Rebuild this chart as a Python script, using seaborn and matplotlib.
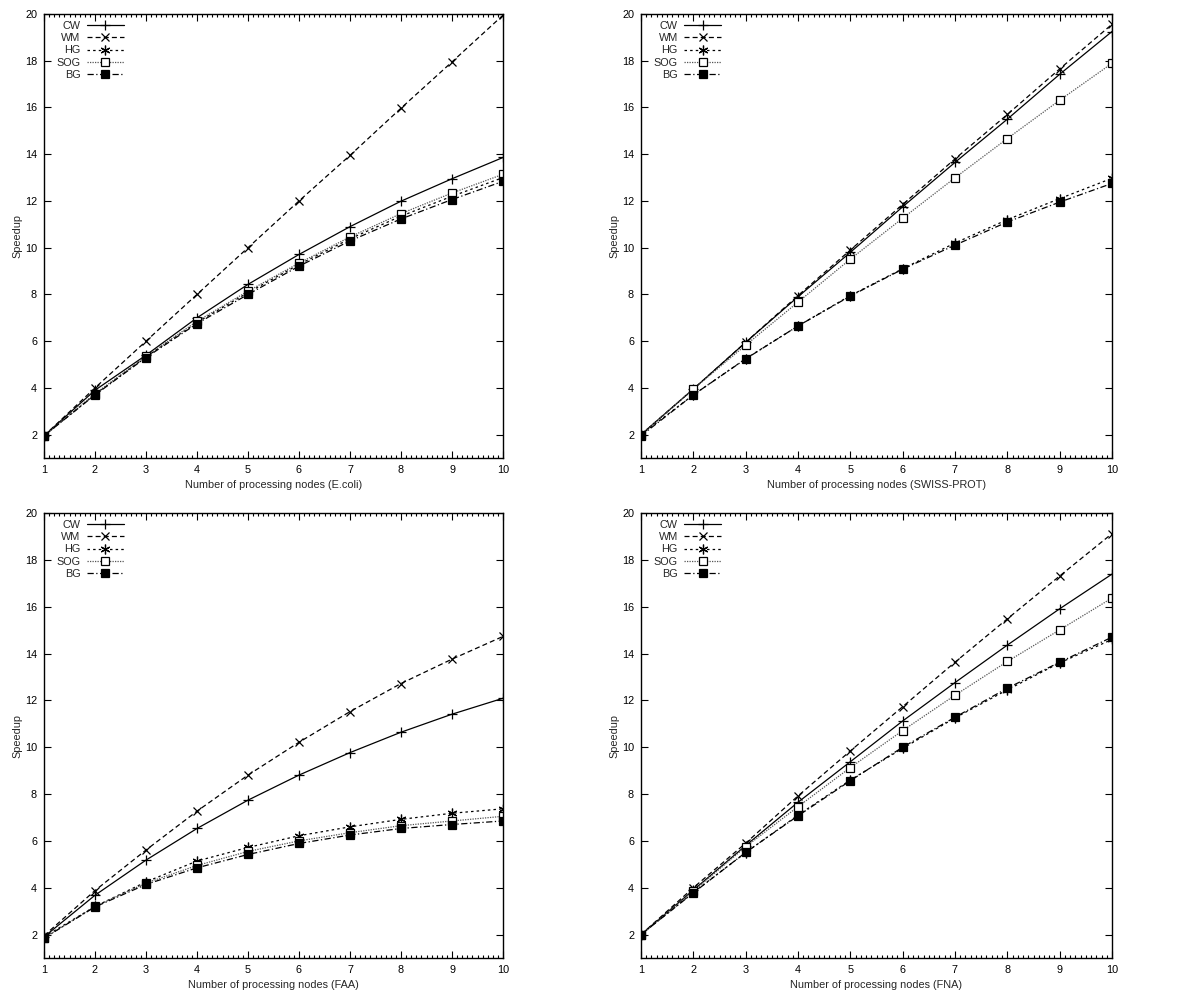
import matplotlib
matplotlib.use("Agg")
import matplotlib.pyplot as plt
from matplotlib import font_manager
from matplotlib.ticker import MultipleLocator, AutoMinorLocator
import seaborn as sns
import pandas as pd

nodes = [1, 2, 3, 4, 5, 6, 7, 8, 9, 10]
series_names = ["CW", "WM", "HG", "SOG", "BG"]

ecoli_cw = [1.95, 3.9, 5.4, 7.0, 8.43, 9.71, 10.9, 11.99, 12.95, 13.86]
ecoli_wm = [1.95, 4.0, 6.0, 8.0, 10.0, 12.0, 13.95, 15.97, 17.95, 19.95]
ecoli_hg = [1.95, 3.72, 5.33, 6.8, 8.08, 9.28, 10.38, 11.35, 12.2, 13.0]
ecoli_sog = [1.95, 3.75, 5.35, 6.85, 8.14, 9.34, 10.46, 11.46, 12.34, 13.14]
ecoli_bg = [1.95, 3.7, 5.3, 6.75, 8.0, 9.21, 10.29, 11.23, 12.06, 12.84]

swiss_cw = [2.0, 3.95, 5.95, 7.9, 9.8, 11.75, 13.65, 15.5, 17.42, 19.25]
swiss_wm = [2.0, 3.95, 5.95, 7.95, 9.9, 11.85, 13.8, 15.7, 17.65, 19.56]
swiss_hg = [2.0, 3.7, 5.25, 6.65, 7.95, 9.1, 10.2, 11.2, 12.1, 12.97]
swiss_sog = [2.0, 3.95, 5.83, 7.67, 9.51, 11.26, 12.99, 14.67, 16.31, 17.89]
swiss_bg = [1.95, 3.7, 5.24, 6.65, 7.93, 9.08, 10.11, 11.1, 11.95, 12.75]

faa_cw = [1.9, 3.68, 5.18, 6.53, 7.74, 8.81, 9.77, 10.64, 11.41, 12.09]
faa_wm = [1.95, 3.88, 5.61, 7.27, 8.81, 10.21, 11.52, 12.72, 13.76, 14.73]
faa_hg = [1.9, 3.2, 4.25, 5.14, 5.72, 6.22, 6.6, 6.92, 7.18, 7.37]
faa_sog = [1.85, 3.2, 4.2, 4.95, 5.55, 6.0, 6.35, 6.65, 6.85, 7.05]
faa_bg = [1.85, 3.18, 4.14, 4.85, 5.42, 5.89, 6.25, 6.53, 6.7, 6.85]

fna_cw = [2.0, 3.9, 5.8, 7.65, 9.38, 11.12, 12.76, 14.36, 15.91, 17.39]
fna_wm = [2.0, 4.0, 5.9, 7.92, 9.84, 11.73, 13.63, 15.48, 17.31, 19.12]
fna_hg = [2.0, 3.8, 5.5, 7.1, 8.6, 9.95, 11.25, 12.45, 13.6, 14.6]
fna_sog = [2.0, 3.85, 5.75, 7.46, 9.13, 10.71, 12.22, 13.66, 15.01, 16.37]
fna_bg = [2.0, 3.78, 5.51, 7.07, 8.57, 10.0, 11.28, 12.52, 13.63, 14.7]

x_labels = ["Number of processing nodes (E.coli)",
            "Number of processing nodes (SWISS-PROT)",
            "Number of processing nodes (FAA)",
            "Number of processing nodes (FNA)"]
y_label = "Speedup"

panel_values = [
    [ecoli_cw, ecoli_wm, ecoli_hg, ecoli_sog, ecoli_bg],
    [swiss_cw, swiss_wm, swiss_hg, swiss_sog, swiss_bg],
    [faa_cw, faa_wm, faa_hg, faa_sog, faa_bg],
    [fna_cw, fna_wm, fna_hg, fna_sog, fna_bg],
]

sns.set_style("ticks")
installed = {f.name for f in font_manager.fontManager.ttflist}
if "Liberation Sans Narrow" in installed:
    plt.rcParams["font.family"] = ["Liberation Sans Narrow", "DejaVu Sans"]
    FS = 9.3
else:
    plt.rcParams["font.family"] = ["Liberation Sans", "DejaVu Sans"]
    FS = 7.8
plt.rcParams["font.size"] = FS

styles = {
    "CW": dict(marker="+", linestyle="-", color="black", mfc="black", mec="black", ms=7.5),
    "WM": dict(marker="x", linestyle=(0, (4, 2.5)), color="black", mfc="black", mec="black", ms=6),
    "HG": dict(marker=(6, 2, 0), linestyle=(0, (2, 2.5)), color="black", mfc="black", mec="black", ms=7),
    "SOG": dict(marker="s", linestyle=(0, (1, 1)), color="#555555", mfc="white", mec="black", ms=6),
    "BG": dict(marker="s", linestyle=(0, (5, 2, 1, 2)), color="black", mfc="black", mec="black", ms=6),
}

fig = plt.figure(figsize=(11.84, 9.98), dpi=100)
rects = [
    [44 / 1184, 1 - 458 / 998, (503 - 44) / 1184, (458 - 14) / 998],
    [641 / 1184, 1 - 458 / 998, (1112 - 641) / 1184, (458 - 14) / 998],
    [44 / 1184, 1 - 958 / 998, (503 - 44) / 1184, (958 - 513) / 998],
    [641 / 1184, 1 - 958 / 998, (1112 - 641) / 1184, (958 - 513) / 998],
]

for i in range(4):
    ax = fig.add_axes(rects[i])
    for name, vals in zip(series_names, panel_values[i]):
        st = dict(styles[name])
        df = pd.DataFrame({"nodes": nodes, "speedup": vals})
        sns.lineplot(data=df, x="nodes", y="speedup", ax=ax, label=name,
                     lw=0.9, markeredgewidth=0.9, **st)
    ax.set_xlim(1, 10)
    ax.set_ylim(1, 20)
    ax.xaxis.set_major_locator(MultipleLocator(1))
    ax.xaxis.set_minor_locator(AutoMinorLocator(10))
    ax.set_yticks(range(2, 21, 2))
    ax.tick_params(axis="both", which="both", direction="in", top=True, right=True,
                   labelsize=FS, width=0.8, colors="black", pad=5)
    ax.tick_params(axis="both", which="major", length=5)
    ax.tick_params(axis="x", which="minor", length=2.5)
    for sp in ax.spines.values():
        sp.set_linewidth(1.0)
        sp.set_color("black")
    ax.set_xlabel(x_labels[i], fontsize=FS, labelpad=4)
    ax.set_ylabel(y_label, fontsize=FS, labelpad=2)
    ax.legend(loc="upper left", bbox_to_anchor=(0.027, 0.984), frameon=False,
              markerfirst=False, alignment="right", handlelength=3.4,
              handletextpad=0.6, labelspacing=0.2, borderaxespad=0.0,
              fontsize=FS, borderpad=0.0)

fig.savefig("out.png", dpi=100)
